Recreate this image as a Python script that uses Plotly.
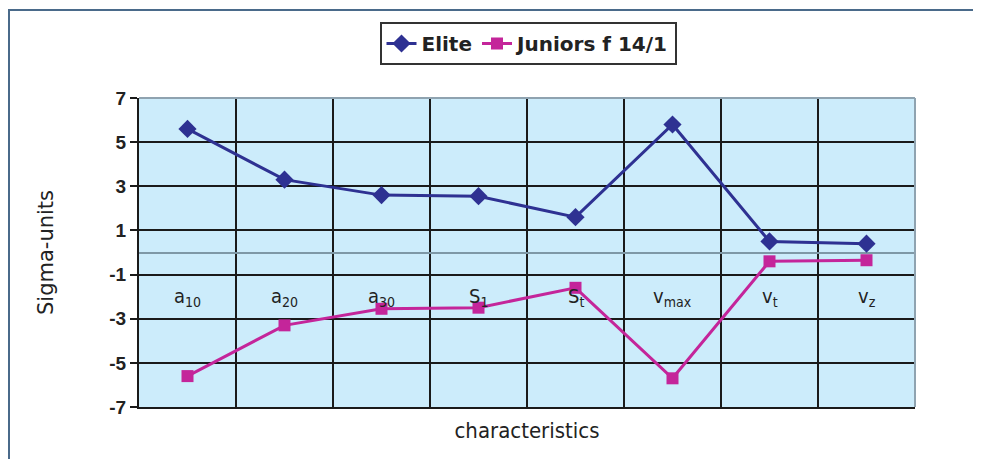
import plotly.graph_objects as go

categories = ["a10", "a20", "a30", "S1", "St", "vmax", "vt", "vz"]
cat_labels = ["a<sub>10</sub>", "a<sub>20</sub>", "a<sub>30</sub>", "S<sub>1</sub>",
              "S<sub>t</sub>", "v<sub>max</sub>", "v<sub>t</sub>", "v<sub>z</sub>"]
elite = [5.6, 3.3, 2.6, 2.55, 1.6, 5.8, 0.5, 0.4]
juniors = [-5.6, -3.3, -2.55, -2.5, -1.6, -5.7, -0.4, -0.35]
y_ticks = [-7, -5, -3, -1, 1, 3, 5, 7]
label_y = -2.0

# page body has an 8px margin; compensate
OFF = 8
W, H = 981 - OFF, 459 - OFF
L, R, T, B = 139 - OFF, 66, 98 - OFF, 52
pw, ph = W - L - R, H - T - B

COND = "DejaVu Sans Condensed, Liberation Sans Narrow, Arial Narrow, Liberation Sans"

def px_x(px):
    return (px - OFF - L) / pw

def px_y(py):
    return (H - B - (py - OFF)) / ph

fig = go.Figure()
fig.add_trace(go.Scatter(
    x=categories, y=elite, name="Elite", mode="lines+markers",
    line=dict(color="#2E3192", width=3),
    marker=dict(symbol="diamond", size=14, color="#2E3192"),
))
fig.add_trace(go.Scatter(
    x=categories, y=juniors, name="Juniors f 14/1", mode="lines+markers",
    line=dict(color="#C4259A", width=3),
    marker=dict(symbol="square", size=12, color="#C4259A"),
))

for c, lab in zip(categories, cat_labels):
    fig.add_annotation(x=c, y=label_y, text=lab, showarrow=False,
                       font=dict(family=COND, size=20, color="#222"))

# outer frame
fig.add_shape(type="line", xref="paper", yref="paper",
              x0=px_x(8), x1=px_x(981), y0=px_y(10), y1=px_y(10),
              line=dict(color="#4A6A8A", width=2))
fig.add_shape(type="line", xref="paper", yref="paper",
              x0=px_x(9), x1=px_x(9), y0=px_y(10), y1=px_y(459),
              line=dict(color="#4A6A8A", width=2))
# plot border top/right
fig.add_shape(type="line", xref="paper", yref="paper", x0=0, x1=1, y0=1, y1=1,
              line=dict(color="#8FA3B0", width=2))
fig.add_shape(type="line", xref="paper", yref="paper", x0=1, x1=1, y0=0, y1=1,
              line=dict(color="#8FA3B0", width=2))

fig.update_layout(
    width=W, height=H,
    margin=dict(l=L, r=R, t=T, b=B),
    paper_bgcolor="white",
    plot_bgcolor="#CCECFB",
    font=dict(family="Liberation Sans, Arial", color="#222"),
    showlegend=True,
    legend=dict(orientation="h", x=px_x(528), y=px_y(22),
                xanchor="center", yanchor="top",
                bordercolor="#333", borderwidth=2, bgcolor="white",
                font=dict(size=20, family="DejaVu Sans, Liberation Sans", weight="bold"),
                itemwidth=30, tracegroupgap=0),
    xaxis=dict(
        type="category", tickson="boundaries", showticklabels=False,
        showgrid=True, gridcolor="#1a1a1a", gridwidth=2,
        showline=True, linecolor="#1a1a1a", linewidth=2,
        ticks="", range=[-0.5, 7.5],
        title=dict(text="characteristics", standoff=15,
                   font=dict(size=22, family=COND)),
    ),
    yaxis=dict(
        range=[-7, 7], tickvals=y_ticks, ticktext=[str(v) for v in y_ticks],
        showgrid=True, gridcolor="#1a1a1a", gridwidth=2,
        zeroline=True, zerolinecolor="#7E98A6", zerolinewidth=2,
        showline=True, linecolor="#1a1a1a", linewidth=2,
        ticks="outside", ticklen=7, tickcolor="#1a1a1a", tickwidth=2,
        tickfont=dict(size=19, weight="bold"),
        title=dict(text="Sigma-units", standoff=50, font=dict(size=21, family="DejaVu Sans")),
    ),
)

fig.write_html("out.html")
